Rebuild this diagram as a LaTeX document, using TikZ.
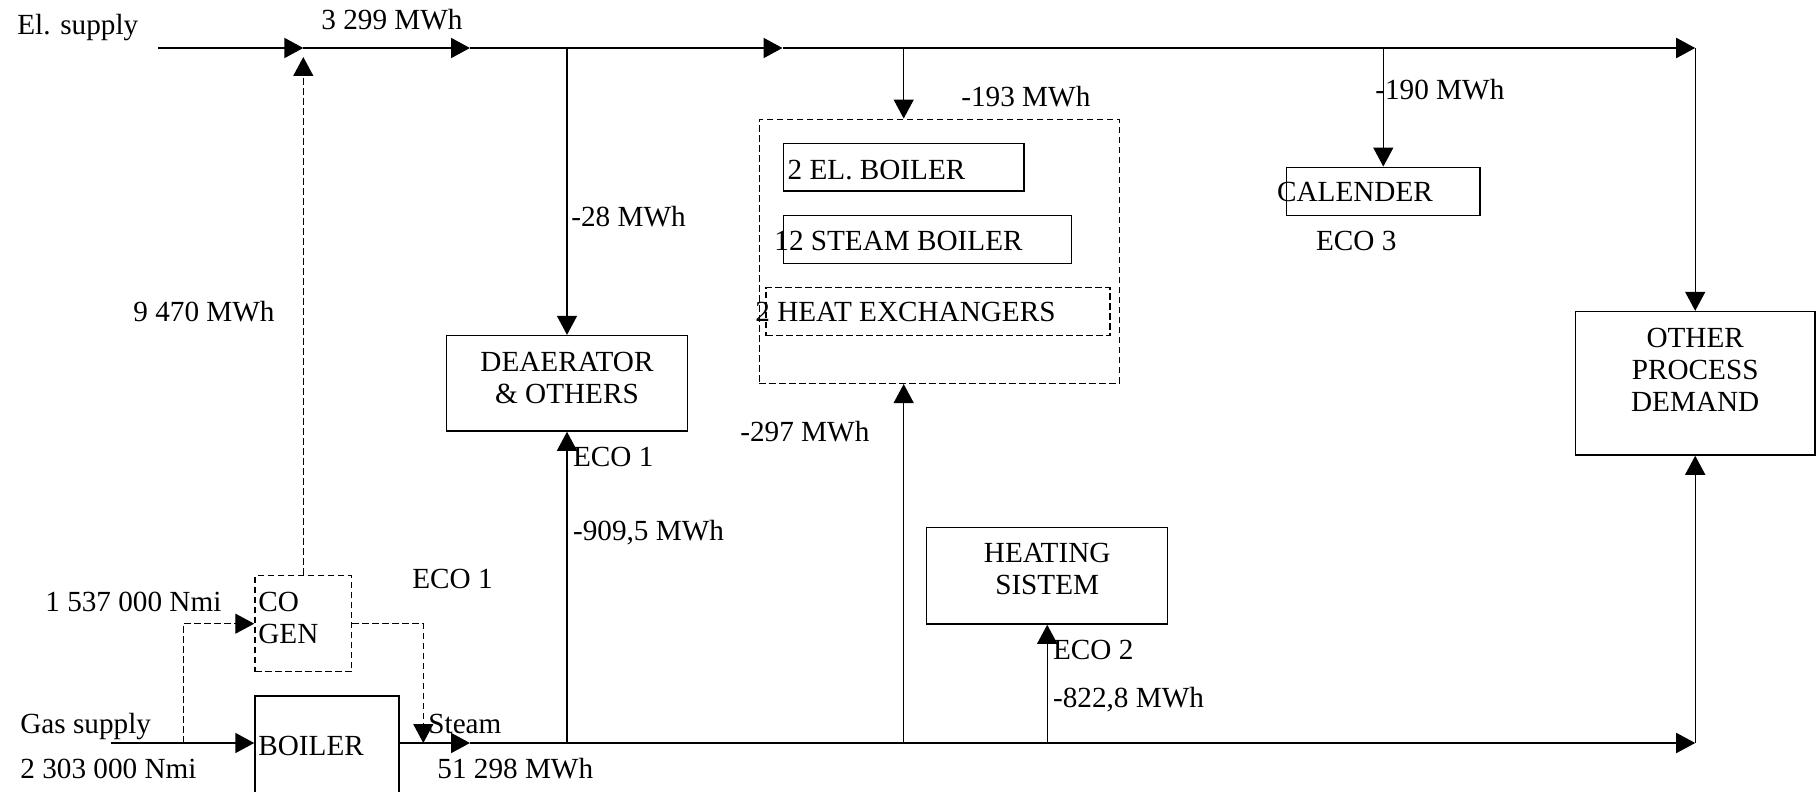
\documentclass[tikz,border=0pt]{standalone}
\usepackage{fontspec}
\setmainfont{Liberation Serif}
\usetikzlibrary{arrows.meta,positioning}

\begin{document}
\begin{tikzpicture}[x=0.5pt,y=-0.5pt,
  font=\fontsize{14.6pt}{16pt}\selectfont,
  box/.style={draw,line width=0.75pt,inner sep=0pt},
  dbox/.style={box,dash pattern=on 3.3pt off 1.7pt},
  lbl/.style={inner sep=0pt,anchor=base west},
  mid/.style={inner sep=0pt,align=center},
  tip/.style={-{Triangle[length=9.5pt,width=10pt]}},
  bus/.style={tip,line width=1pt},
  br/.style={tip,line width=0.7pt},
  dl/.style={tip,line width=0.7pt,dash pattern=on 3.3pt off 1.7pt}]
  \useasboundingbox (0,0) rectangle (1816,792);
  % boxes
  \node[box,minimum width=72pt,minimum height=50pt] (boiler) at (327,745.8) {};
  \node[dbox,minimum width=48.3pt,minimum height=48pt] (cogen) at (303.3,623.7) {};
  \node[box,minimum width=120.3pt,minimum height=47.7pt] (dea) at (567,383.3) {};
  \node[box,minimum width=120.5pt,minimum height=48.2pt] (heat) at (1047.2,575.8) {};
  \node[box,minimum width=119.8pt,minimum height=71.7pt] (other) at (1695.2,383.3) {};
  \node[dbox,minimum width=180pt,minimum height=132pt] (hx) at (939.3,251.3) {};
  \node[box,minimum width=120.3pt,minimum height=23.8pt] (elb) at (903.7,167.2) {};
  \node[box,minimum width=144.2pt,minimum height=23.8pt] (stb) at (927.5,239.5) {};
  \node[dbox,minimum width=172pt,minimum height=24pt] (hex) at (938,311.7) {};
  \node[box,minimum width=96.7pt,minimum height=24pt] (cal) at (1383.3,191.3) {};
  % box texts
  \node[mid,below=8.3pt of dea.north] (deat) {DEAERATOR\\\& OTHERS};
  \node[mid,below=8pt of heat.north] (heatt) {HEATING\\SISTEM};
  \node[mid,below=8.5pt of other.north] (othert) {OTHER\\PROCESS\\DEMAND};
  \node[lbl] (cogent) at (258,611.7) {CO};
  \node[lbl] (cogent2) at (258,643) {GEN};
  \node[lbl] (boilert) at (258,755) {BOILER};
  \node[lbl] (elbt) at (787.3,179) {2 EL. BOILER};
  \node[lbl] (stbt) at (774,250.7) {12 STEAM BOILER};
  \node[lbl] (hext) at (755,321.7) {2 HEAT EXCHANGERS};
  \node[lbl] (calt) at (1276.7,201.7) {CALENDER};
  % labels
  \node[lbl] (elsup) at (17,35) {El. supply};
  \node[lbl] (eltot) at (321,30) {3 299 MWh};
  \node[lbl] (cgel) at (133,321) {9 470 MWh};
  \node[lbl] (deael) at (571,227) {-28 MWh};
  \node[lbl] (hxel) at (961,107) {-193 MWh};
  \node[lbl] (calel) at (1375,100) {-190 MWh};
  \node[lbl] (eco3) at (1315.7,250) {ECO 3};
  \node[lbl] (eco1a) at (572.7,466.7) {ECO 1};
  \node[lbl] (deast) at (572.7,540) {-909,5 MWh};
  \node[lbl] (hxst) at (740,441.7) {-297 MWh};
  \node[lbl] (eco1b) at (412,588) {ECO 1};
  \node[lbl] (cggas) at (45,611.7) {1 537 000 Nmi};
  \node[lbl] (eco2) at (1052.7,659) {ECO 2};
  \node[lbl] (heatst) at (1052.7,707.3) {-822,8 MWh};
  \node[lbl] (gassup) at (20,733.3) {Gas supply};
  \node[lbl] (gastot) at (20,778) {2 303 000 Nmi};
  \node[lbl] (steam) at (428,733.3) {Steam};
  \node[lbl] (sttot) at (437,778) {51 298 MWh};
  % electricity
  \coordinate (elin) at (158,48);
  \coordinate (ta) at (470,48);
  \coordinate (tb) at (782.5,48);
  \draw[bus] (elin) -- (cogen.north |- elin);
  \draw[bus] (cogen.north |- elin) -- (ta);
  \draw[bus] (ta) -- (tb);
  \draw[bus] (tb) -- (other.north |- elin);
  \draw[br] (other.north |- elin) -- (other.north);
  \draw[br] (dea.north |- elin) -- (dea.north);
  \draw[br] (elb.north |- elin) -- (elb.north |- hx.north);
  \draw[br] (cal.north |- elin) -- (cal.north);
  \draw[dl] (cogen.north) -- ([yshift=-4.5pt]cogen.north |- elin);
  % gas and steam
  \coordinate (gasin) at (111,743);
  \coordinate (jgas) at (183.3,743);
  \coordinate (jst) at (423.3,743);
  \coordinate (sa) at (470,743);
  \draw[bus] (gasin) -- (boiler.west |- gasin);
  \draw[dl] (jgas) |- (cogen.west);
  \draw[dl] (cogen.east) -| (jst);
  \draw[bus] (boiler.east |- sa) -- (sa);
  \draw[bus] (sa) -- (other.south |- sa);
  \draw[br] (other.south |- sa) -- (other.south);
  \draw[br] (dea.south |- sa) -- (dea.south);
  \draw[br] (elb.south |- sa) -- (elb.south |- hx.south);
  \draw[br] (heat.south |- sa) -- (heat.south);
\end{tikzpicture}
\end{document}
